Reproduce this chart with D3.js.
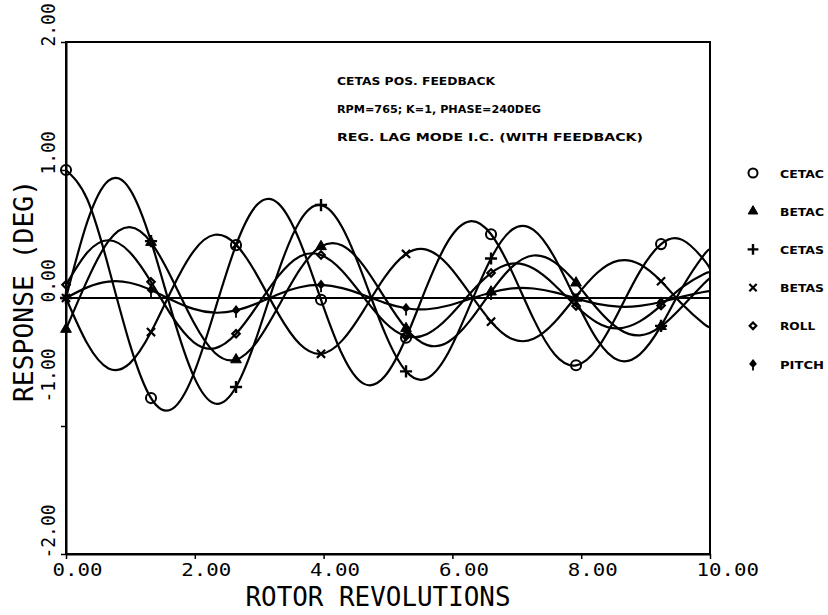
<!DOCTYPE html>
<html><head><meta charset="utf-8">
<script src="https://cdn.jsdelivr.net/npm/d3@7"></script>
<style>
html,body{margin:0;padding:0;background:#fff;}
svg{display:block;}
</style></head><body>
<svg id="c" width="828" height="615"></svg>
<script>
// ---- data ----
const revolutions = [0,0.33,0.66,0.99,1.32,1.65,1.98,2.31,2.64,2.97,3.30,3.63,3.96,4.29,4.62,4.95,5.28,5.61,5.94,6.27,6.60,6.93,7.26,7.59,7.92,8.25,8.58,8.91,9.24,9.57,9.90,10.0];
const cetac = [1.000,0.771,0.242,-0.358,-0.782,-0.866,-0.596,-0.098,0.413,0.730,0.737,0.444,-0.014,-0.442,-0.669,-0.612,-0.311,0.100,0.450,0.599,0.498,0.200,-0.163,-0.441,-0.526,-0.394,-0.109,0.206,0.421,0.454,0.302,0.228];
const betac = [-0.244,0.138,0.444,0.554,0.435,0.145,-0.188,-0.428,-0.482,-0.338,-0.065,0.221,0.402,0.410,0.253,0.001,-0.238,-0.368,-0.342,-0.179,0.048,0.245,0.332,0.279,0.118,-0.084,-0.240,-0.292,-0.222,-0.066,0.109,0.154];
const cetas = [0,0.594,0.917,0.851,0.444,-0.122,-0.608,-0.824,-0.695,-0.291,0.210,0.600,0.726,0.551,0.163,-0.271,-0.573,-0.627,-0.424,-0.060,0.309,0.535,0.532,0.313,-0.020,-0.328,-0.487,-0.440,-0.218,0.082,0.333,0.382];
const betas = [0,-0.356,-0.550,-0.511,-0.266,0.073,0.365,0.494,0.417,0.175,-0.126,-0.360,-0.436,-0.331,-0.098,0.163,0.344,0.376,0.254,0.036,-0.185,-0.321,-0.319,-0.188,0.012,0.197,0.292,0.264,0.131,-0.049,-0.200,-0.229];
const roll = [0.103,0.355,0.451,0.358,0.126,-0.146,-0.344,-0.393,-0.280,-0.060,0.173,0.325,0.336,0.211,0.007,-0.189,-0.298,-0.281,-0.151,0.034,0.195,0.269,0.230,0.100,-0.063,-0.193,-0.238,-0.183,-0.058,0.085,0.186,0.201];
const pitch = [0,0.083,0.128,0.119,0.062,-0.017,-0.085,-0.115,-0.097,-0.041,0.029,0.084,0.102,0.077,0.023,-0.038,-0.080,-0.088,-0.059,-0.008,0.043,0.075,0.074,0.044,-0.003,-0.046,-0.068,-0.062,-0.031,0.011,0.047,0.053];
const seriesNames = ["CETAC","BETAC","CETAS","BETAS","ROLL","PITCH"];
const markerEvery = 4;
const xTicks = [0,2,4,6,8,10];
const xTickLabels = ["0.00","2.00","4.00","6.00","8.00","10.00"];
const yTicks = [-2,-1,0,1,2];
const yTickLabels = ["-2.00","-1.00","0.00","1.00","2.00"];
const xTitle = "ROTOR REVOLUTIONS";
const yTitle = "RESPONSE (DEG)";
const notes = ["CETAS POS. FEEDBACK","RPM=765;  K=1, PHASE=240DEG","REG. LAG MODE I.C. (WITH FEEDBACK)"];

// ---- drawing ----
const svg = d3.select("#c");
const x = d3.scaleLinear().domain([0,10]).range([66,710]);
const y = d3.scaleLinear().domain([-2,2]).range([554,42]);
const mono = "'DejaVu Sans Mono', monospace";

const seriesVals = [cetac,betac,cetas,betas,roll,pitch];
const series = seriesNames.map((n,k)=>({name:n, pts: revolutions.map((r,i)=>[r, seriesVals[k][i]])}));

// custom pitch symbol: filled diamond with a stem
const pitchSym = {draw(ctx,size){const r=Math.sqrt(size)/2; ctx.moveTo(0,-r*1.2);ctx.lineTo(r*0.9,0);ctx.lineTo(0,r*0.9);ctx.lineTo(-r*0.9,0);ctx.closePath(); ctx.moveTo(0,0);ctx.lineTo(0,r*2.2);}};
const symDefs = [
  {type:d3.symbolCircle, size:80, fill:"none", sw:2},
  {type:d3.symbolTriangle, size:50, fill:"#000", sw:1},
  {type:d3.symbolPlus, size:50, fill:"none", sw:2.4},
  {type:d3.symbolTimes, size:45, fill:"none", sw:2.2},
  {type:d3.symbolDiamond2, size:35, fill:"none", sw:2.2},
  {type:pitchSym, size:45, fill:"#000", sw:1.8}
];

// frame
svg.append("rect").attr("x",x(0)).attr("y",y(2)).attr("width",x(10)-x(0)).attr("height",y(-2)-y(2))
  .attr("fill","none").attr("stroke","#000").attr("stroke-width",2);

// axes
const gx = svg.append("g").attr("transform",`translate(0,${y(-2)})`)
  .call(d3.axisBottom(x).tickValues(xTicks).tickSize(5).tickSizeOuter(0).tickFormat((d,i)=>xTickLabels[i]));
gx.select(".domain").attr("stroke-width",2);
gx.selectAll(".tick line").attr("stroke-width",1.5);
gx.selectAll(".tick text").attr("x",-14).attr("y",22).attr("dy",0).attr("text-anchor","start")
  .attr("font-family",mono).attr("font-size",17).attr("fill","#000")
  .attr("textLength",(d,i)=>xTickLabels[i].length*12.5).attr("lengthAdjust","spacingAndGlyphs");

const gy = svg.append("g").attr("transform",`translate(${x(0)},0)`)
  .call(d3.axisLeft(y).tickValues(yTicks).tickSize(5).tickSizeOuter(0).tickFormat((d,i)=>yTickLabels[i]));
gy.select(".domain").attr("stroke-width",2);
gy.selectAll(".tick line").attr("stroke-width",1.5);
gy.selectAll(".tick text").attr("x",0).attr("y",0).attr("dy",0).attr("text-anchor","start")
  .attr("transform",d=> d===-1 ? "translate(-11,-24) rotate(-90)" : "translate(-11,4) rotate(-90)")
  .attr("font-family",mono).attr("font-size",19).attr("fill","#000")
  .attr("textLength",(d,i)=>yTickLabels[i].length*10.8).attr("lengthAdjust","spacingAndGlyphs");

// zero line
svg.append("line").attr("x1",x(0)).attr("x2",x(10)).attr("y1",y(0)).attr("y2",y(0))
  .attr("stroke","#000").attr("stroke-width",1.8);

// titles
svg.append("text").attr("x",378).attr("y",606).attr("text-anchor","middle")
  .attr("font-family",mono).attr("font-size",26).attr("textLength",265).attr("lengthAdjust","spacingAndGlyphs").text(xTitle);
svg.append("text").attr("transform","translate(33,291) rotate(-90)").attr("text-anchor","middle")
  .attr("font-family",mono).attr("font-size",27).attr("textLength",222).attr("lengthAdjust","spacingAndGlyphs").text(yTitle);

// annotation
const noteLen = [158,204,306];
svg.selectAll("text.note").data(notes).join("text").attr("class","note")
  .attr("x",337).attr("y",(d,i)=>85+i*28.2)
  .attr("font-family","'DejaVu Sans', sans-serif").attr("font-weight","bold").attr("font-size",11)
  .attr("textLength",(d,i)=>noteLen[i]).attr("lengthAdjust","spacingAndGlyphs").text(d=>d);

// curves
const line = d3.line().x(d=>x(d[0])).y(d=>y(d[1])).curve(d3.curveNatural);
svg.append("g").selectAll("path").data(series).join("path")
  .attr("d",d=>line(d.pts)).attr("fill","none").attr("stroke","#000").attr("stroke-width",2.2);

// markers
series.forEach((s,k)=>{
  const sd = symDefs[k];
  const sym = d3.symbol().type(sd.type).size(sd.size);
  svg.append("g").selectAll("path").data(s.pts.filter((p,i)=>i%markerEvery===0 && p[0]<10)).join("path")
    .attr("transform",d=>`translate(${x(d[0])},${y(d[1])})`).attr("d",sym)
    .attr("fill",sd.fill).attr("stroke","#000").attr("stroke-width",sd.sw);
});

// legend
const lg = svg.append("g");
seriesNames.forEach((n,k)=>{
  const sd = symDefs[k];
  const yy = 173 + k*38.2;
  lg.append("path").attr("transform",`translate(753,${yy})`).attr("d",d3.symbol().type(sd.type).size(sd.size*0.8))
    .attr("fill",sd.fill).attr("stroke","#000").attr("stroke-width",sd.sw);
  lg.append("text").attr("x",780).attr("y",yy+4.5)
    .attr("font-family","'DejaVu Sans', sans-serif").attr("font-weight","bold").attr("font-size",11)
    .attr("textLength",n.length*8.8).attr("lengthAdjust","spacingAndGlyphs").text(n);
});
</script>
</body></html>
